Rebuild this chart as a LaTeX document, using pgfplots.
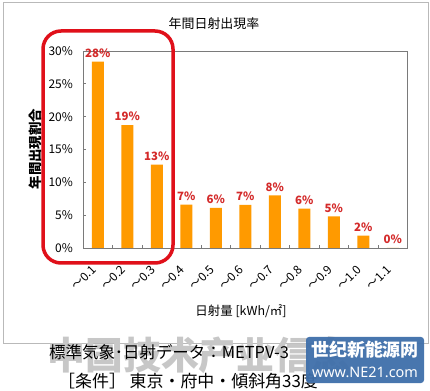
\documentclass[border=0pt]{standalone}
\usepackage{fontspec}
\setmainfont{Noto Sans CJK JP}
\newfontfamily\nsans{Noto Sans}
\usepackage{pgfplots}
\pgfplotsset{compat=1.18}
\definecolor{barorange}{HTML}{FF9A00}
\definecolor{labred}{HTML}{D42A2A}
\definecolor{framered}{HTML}{E0101A}
\definecolor{logoblue}{HTML}{3F6FAA}
\definecolor{axgray}{HTML}{7A7A7A}
\newcommand{\fs}[1]{\fontsize{#1}{#1}\selectfont}
\newcommand{\tl}{～}
\begin{document}
\begin{tikzpicture}[x=1bp,y=1bp]
\path[use as bounding box] (0,0) rectangle (430,391);
\fill[white] (0,0) rectangle (430,391);
\draw[gray!55, line width=1bp] (3,47) rectangle (428,388);
\node[font=\fs{13}] at (214,367) {年間日射出現率};
\node[rotate=90, font=\bfseries\fs{13.5}] at (35,242) {年間出現割合};
\begin{axis}[
  at={(83bp,143bp)}, anchor=south west, scale only axis,
  width=324.5bp, height=197bp,
  xmin=-0.5, xmax=10.5, ymin=0, ymax=30,
  axis line style={axgray, line width=0.9bp},
  /pgf/number format/assume math mode=true,
  ytick={0,5,...,30},
  yticklabel={\pgfmathprintnumber{\tick}\%},
  yticklabel style={font=\fs{12}, inner sep=0pt, xshift=-10bp},
  tick align=inside, major tick length=3bp,
  tick style={axgray, line width=0.8bp},
  xtick pos=bottom, ytick pos=left,
  xtick={0,...,10},
  xticklabels={\tl0.1,\tl0.2,\tl0.3,\tl0.4,\tl0.5,\tl0.6,\tl0.7,\tl0.8,\tl0.9,\tl1.0,\tl1.1},
  xtick style={draw=none},
  xticklabel style={font=\fs{12}, inner sep=0pt, xshift=-7bp, yshift=-16bp, rotate=45, anchor=north east},
  extra x ticks={0.5,1.5,...,9.5},
  extra x tick labels={},
  extra x tick style={xtick style={draw=axgray, line width=0.8bp}},
  clip=false,
]
\addplot[ybar, bar width=12bp, fill=barorange, draw=none,
  nodes near coords={\pgfmathprintnumber[fixed,precision=0]{\pgfplotspointmeta}\%},
  every node near coord/.append style={font=\bfseries\fs{11.5}, text=labred, inner sep=1bp, yshift=3bp}]
  coordinates {(0,28.4) (1,18.7) (2,12.7) (3,6.6) (4,6.1) (5,6.55) (6,8.0) (7,6.0) (8,4.8) (9,1.9) (10,0.0)};
\end{axis}
\draw[framered, line width=3.5bp, rounded corners=18bp] (43,128) rectangle (173,360);
\node[font=\fs{12.5}] at (241,80) {日射量 [kWh/㎡]};
\node[font=\bfseries\fs{38}, text=black!22, anchor=west] at (44,36) {中国技术产业信息};
\node[font=\fs{16.5}, anchor=west, inner sep=0pt] at (49,39) {標準気象･日射データ：METPV-3};
\node[font=\fs{17}, anchor=west, inner sep=0pt] at (58,10) {［条件］ 東京・府中・傾斜角33度};
\fill[logoblue, opacity=0.95, rounded corners=3bp] (306,8) rectangle (424,54);
\node[font=\bfseries\fs{18}, text=white] at (365,41) {世纪新能源网};
\node[font=\nsans\fs{14.5}, text=white] at (365,19) {www.\textbf{NE21}.com};
\end{tikzpicture}
\end{document}
